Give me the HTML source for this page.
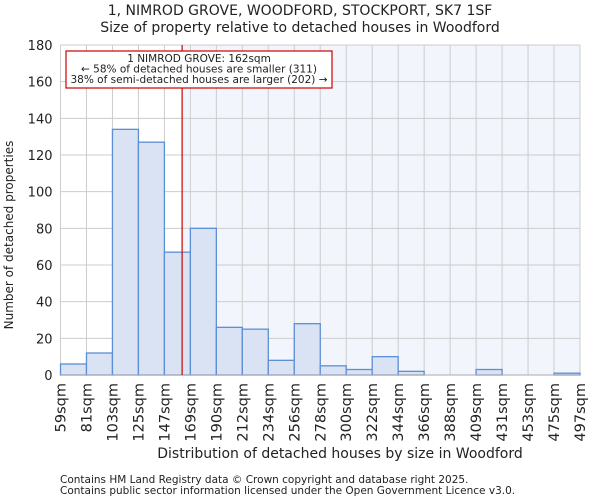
<!DOCTYPE html>
<html><head><meta charset="utf-8"><style>
body{margin:0;background:#fff;font-family:"DejaVu Sans","Liberation Sans",sans-serif;}
svg text{font-family:"DejaVu Sans","Liberation Sans",sans-serif;fill:#222;}
</style></head><body>
<svg width="600" height="500" viewBox="0 0 600 500">
<g id="g"></g>
</svg>
<script>
const categories=["59sqm","81sqm","103sqm","125sqm","147sqm","169sqm","190sqm","212sqm","234sqm","256sqm","278sqm","300sqm","322sqm","344sqm","366sqm","388sqm","409sqm","431sqm","453sqm","475sqm","497sqm"];
const counts=[6,12,134,127,67,80,26,25,8,28,5,3,10,2,0,0,3,0,0,1];
const yTicks=[0,20,40,60,80,100,120,140,160,180];
const binEdges=[59,81,103,125,147,169,190,212,234,256,278,300,322,344,366,388,409,431,453,475,497];
const markerValue=162;
const X0=60.5,X1=580,Y0=375,Y1=45,YMAX=180;
const nb=counts.length,bw=(X1-X0)/nb;
const xi=i=>X0+i*bw;
const y=v=>Y0-(v/YMAX)*(Y0-Y1);
function xv(v){for(let i=0;i<binEdges.length-1;i++){if(v<=binEdges[i+1])return xi(i)+bw*(v-binEdges[i])/(binEdges[i+1]-binEdges[i]);}return X1;}
const g=document.getElementById('g');const NS="http://www.w3.org/2000/svg";
function el(t,a,txt){const e=document.createElementNS(NS,t);for(const k in a)e.setAttribute(k,a[k]);if(txt!==undefined)e.textContent=txt;g.appendChild(e);return e;}
const mx=xv(markerValue);
let e;
e=el('rect',{x:X0,y:Y1,width:X1-X0,height:Y0-Y1,fill:'#fff'});


e=el('rect',{x:mx,y:Y1,width:X1-mx,height:Y0-Y1,fill:'#f3f5fc'});


for(let i=0;i<=nb;i++){e=el('line',{x1:xi(i),x2:xi(i),y1:Y1,y2:Y0,stroke:'#cccccc'});

}
yTicks.forEach(t=>{e=el('line',{x1:X0,x2:X1,y1:y(t),y2:y(t),stroke:'#cccccc'});


e=el('text',{x:X0-8,y:y(t)+5,'text-anchor':'end','font-size':13},t);

});
counts.forEach((c,i)=>{e=el('rect',{x:xi(i),y:y(c),width:bw,height:Y0-y(c),fill:'#dae3f3',stroke:'#5b8fd6','stroke-width':1.3});

});
e=el('line',{x1:X0,x2:X1,y1:Y0,y2:Y0,stroke:'#aaa'});


categories.forEach((c,i)=>{const x=xi(i)+5;e=el('text',{x:0,y:0,'text-anchor':'end','font-size':14.5,transform:`translate(${x},383) rotate(-90)`},c);

});
e=el('line',{x1:mx,x2:mx,y1:Y1,y2:Y0,stroke:'#cc0000','stroke-width':1.2});


e=el('rect',{x:66,y:51,width:266,height:37,fill:'#fff',stroke:'#cc0000','stroke-width':1.2});


[["1 NIMROD GROVE: 162sqm",62],["← 58% of detached houses are smaller (311)",72.5],["38% of semi-detached houses are larger (202) →",83]].forEach(([t,yy])=>{e=el('text',{x:199,y:yy,'text-anchor':'middle','font-size':10.5},t);

});
e=el('text',{x:300,y:15,'text-anchor':'middle','font-size':14},"1, NIMROD GROVE, WOODFORD, STOCKPORT, SK7 1SF");


e=el('text',{x:300,y:32,'text-anchor':'middle','font-size':14},"Size of property relative to detached houses in Woodford");


e=el('text',{x:0,y:0,'text-anchor':'middle','font-size':12,transform:'translate(13,235) rotate(-90)'},"Number of detached properties");


e=el('text',{x:340,y:458,'text-anchor':'middle','font-size':14},"Distribution of detached houses by size in Woodford");


e=el('text',{x:60,y:483,'font-size':10.5,fill:'#555'},"Contains HM Land Registry data © Crown copyright and database right 2025.");


e=el('text',{x:60,y:494,'font-size':10.5,fill:'#555'},"Contains public sector information licensed under the Open Government Licence v3.0.");


</script>
</body></html>
